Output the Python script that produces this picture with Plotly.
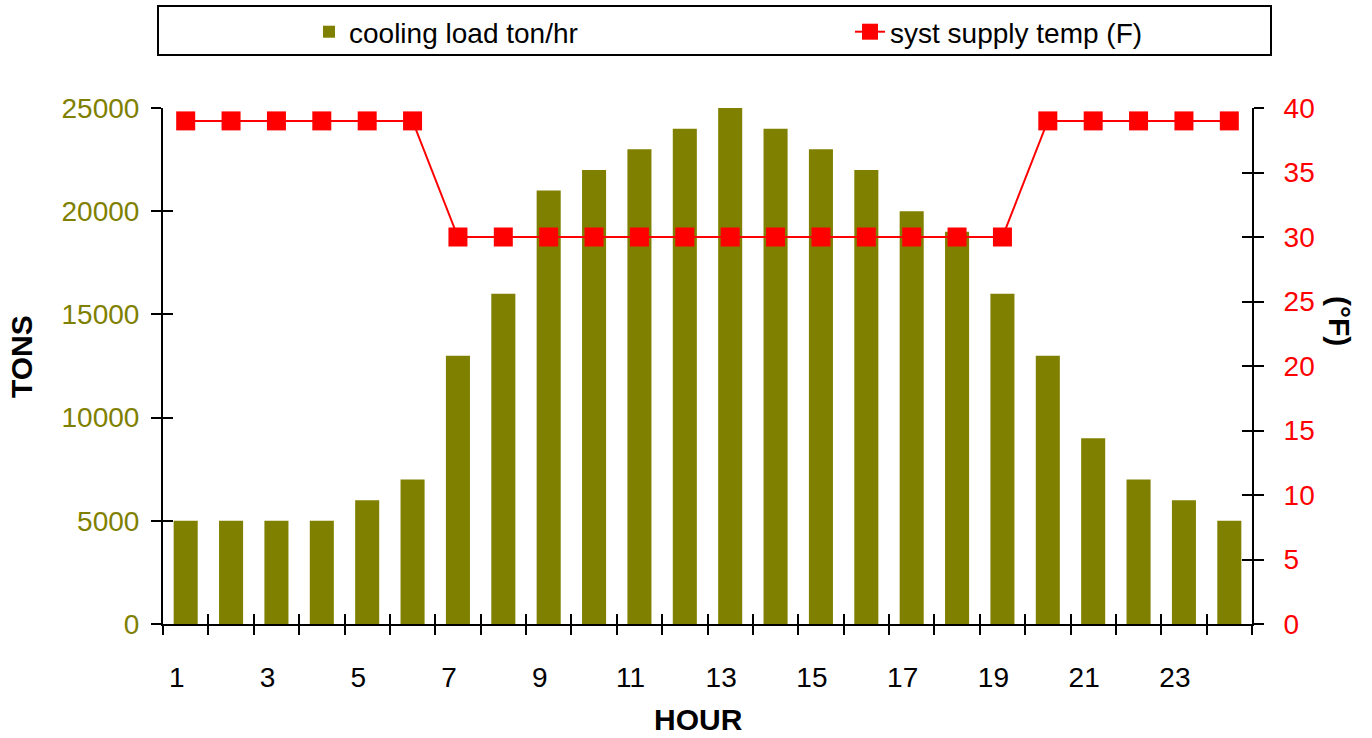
import plotly.graph_objects as go

hours = list(range(1, 25))
cooling_load = [5000, 5000, 5000, 5000, 6000, 7000, 13000, 16000, 21000, 22000, 23000, 24000,
                25000, 24000, 23000, 22000, 20000, 19000, 16000, 13000, 9000, 7000, 6000, 5000]
supply_temp = [39, 39, 39, 39, 39, 39, 30, 30, 30, 30, 30, 30,
               30, 30, 30, 30, 30, 30, 30, 39, 39, 39, 39, 39]
x_label_hours = hours[::2]
x_tick_bounds = [h - 0.5 for h in hours] + [hours[-1] + 0.5]

OLIVE = "#808000"
RED = "#ff0000"
FONT = "Liberation Sans, Arial, sans-serif"

W, H = 1372, 738

fig = go.Figure()
fig.add_trace(go.Bar(x=hours, y=cooling_load, name="cooling load ton/hr",
                     marker=dict(color=OLIVE, line=dict(width=0)), legend="legend"))
fig.add_trace(go.Scatter(x=hours, y=supply_temp, name="syst supply temp (F)", yaxis="y2",
                         mode="lines+markers", line=dict(color=RED, width=2),
                         marker=dict(symbol="square", size=19, color=RED), legend="legend2"))
# helper axes for crossing ticks
fig.add_trace(go.Scatter(x=[], y=[], xaxis="x2", yaxis="y", showlegend=False))
fig.add_trace(go.Scatter(x=[], y=[], xaxis="x3", yaxis="y3", showlegend=False))
fig.add_trace(go.Scatter(x=[], y=[], xaxis="x", yaxis="y4", showlegend=False))

xr = [0.5, 24.5]
fig.update_layout(
    width=W, height=H,
    margin=dict(l=163, r=120, t=108, b=114, autoexpand=False),
    paper_bgcolor="white", plot_bgcolor="white",
    font=dict(family=FONT, size=28, color="black"),
    bargap=0.47,
    showlegend=True,
    xaxis=dict(range=xr, tickvals=x_label_hours, ticktext=[str(h) for h in x_label_hours],
               ticks="", showgrid=False, zeroline=False, showline=True, linecolor="black",
               linewidth=2, ticklabelshift=-9, ticklabelstandoff=27,
               tickfont=dict(size=28, color="black"), automargin=False),
    xaxis2=dict(range=xr, overlaying="x", anchor="y", side="bottom", tickvals=x_tick_bounds,
                ticks="outside", ticklen=10, tickwidth=2, tickcolor="black",
                showticklabels=False, showgrid=False, zeroline=False, showline=False),
    xaxis3=dict(range=xr, overlaying="x", anchor="y3", side="bottom", tickvals=x_tick_bounds,
                ticks="inside", ticklen=10, tickwidth=2, tickcolor="black",
                showticklabels=False, showgrid=False, zeroline=False, showline=False),
    xaxis4=dict(range=xr, overlaying="x", anchor="y", side="top", showline=True,
                linecolor="#a0a0a0", linewidth=2, ticks="", showticklabels=False,
                showgrid=False, zeroline=False),
    yaxis=dict(range=[0, 25000], dtick=5000, tickformat="d", ticks="outside", ticklen=10,
               tickwidth=2, tickcolor="black", showline=True, linecolor="black", linewidth=2,
               showgrid=False, zeroline=False, tickfont=dict(size=28, color=OLIVE),
               ticklabelstandoff=6, automargin=False),
    yaxis3=dict(range=[0, 25000], dtick=5000, overlaying="y", anchor="x3", side="left",
                ticks="inside", ticklen=10, tickwidth=2, tickcolor="black",
                showticklabels=False, showgrid=False, zeroline=False, showline=False),
    yaxis2=dict(range=[0, 40], dtick=5, overlaying="y", anchor="x", side="right",
                ticks="outside", ticklen=10, tickwidth=2, tickcolor="black", showline=True,
                linecolor="black", linewidth=2, showgrid=False, zeroline=False,
                tickfont=dict(size=28, color=RED), ticklabelstandoff=14, automargin=False),
    yaxis4=dict(range=[0, 40], dtick=5, overlaying="y", anchor="x", side="right",
                ticks="inside", ticklen=10, tickwidth=2, tickcolor="black",
                showticklabels=False, showgrid=False, zeroline=False, showline=False),
    legend=dict(xref="container", yref="container", x=309 / W, y=1 - 32 / H,
                xanchor="left", yanchor="middle", bgcolor="rgba(0,0,0,0)",
                font=dict(size=28, color="black")),
    legend2=dict(xref="container", yref="container", x=850 / W, y=1 - 32 / H,
                 xanchor="left", yanchor="middle", bgcolor="rgba(0,0,0,0)",
                 font=dict(size=28, color="black")),
    shapes=[dict(type="rect", xref="paper", yref="paper",
                 x0=(158 - 163) / 1089, x1=(1271 - 163) / 1089,
                 y0=(624 - 55) / 516, y1=(624 - 6) / 516,
                 line=dict(color="black", width=2), fillcolor="rgba(0,0,0,0)", layer="above")],
    annotations=[
        dict(text="<b>TONS</b>", xref="paper", yref="paper", x=(21 - 163) / 1089,
             y=(624 - 357) / 516, textangle=-90, showarrow=False,
             font=dict(size=30, color="black"), xanchor="center", yanchor="middle"),
        dict(text="<b>(°F)</b>", xref="paper", yref="paper", x=(1340 - 163) / 1089,
             y=(624 - 321) / 516, textangle=90, showarrow=False,
             font=dict(size=30, color="black"), xanchor="center", yanchor="middle"),
        dict(text="<b>HOUR</b>", xref="paper", yref="paper", x=(698 - 163) / 1089,
             y=(624 - 720) / 516, showarrow=False,
             font=dict(size=30, color="black"), xanchor="center", yanchor="middle"),
    ],
)

fig.write_html("out.html", config={"displayModeBar": False},
               post_script="document.body.style.margin='0px';document.body.style.overflow='hidden';")
